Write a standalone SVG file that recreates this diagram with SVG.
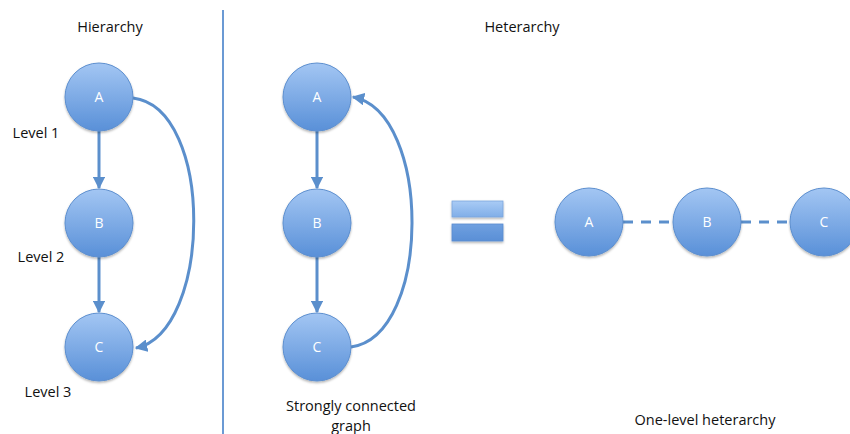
<svg xmlns="http://www.w3.org/2000/svg" width="850" height="434" viewBox="0 0 850 434">
  <defs>
    <linearGradient id="ballFill" x1="0" y1="0" x2="0" y2="1">
      <stop offset="0" stop-color="#a3c6f3"/>
      <stop offset="1" stop-color="#5990d8"/>
    </linearGradient>
    <linearGradient id="barLight" x1="0" y1="0" x2="0" y2="1">
      <stop offset="0" stop-color="#a9cbf5"/>
      <stop offset="1" stop-color="#80aee8"/>
    </linearGradient>
    <linearGradient id="barDark" x1="0" y1="0" x2="0" y2="1">
      <stop offset="0" stop-color="#6fa0e0"/>
      <stop offset="1" stop-color="#5a8fd6"/>
    </linearGradient>
    <filter id="shade" x="-20%" y="-20%" width="140%" height="150%">
      <feDropShadow dx="0" dy="1.5" stdDeviation="1.2" flood-color="#000" flood-opacity="0.3"/>
    </filter>
    <marker id="head" viewBox="0 0 10 10" refX="9" refY="5" markerWidth="4.2" markerHeight="4.2" orient="auto" markerUnits="strokeWidth">
      <path d="M0,0 L10,5 L0,10 Z" fill="#5b8fcc"/>
    </marker>
  </defs>
  <style>
    .ball { fill: url(#ballFill); stroke: #5d8fcf; stroke-width: 1; filter: url(#shade); }
    .letter { font-family: "Open Sans", "Liberation Sans", sans-serif; font-size: 14px; fill: #ffffff; text-anchor: middle; }
    .label { font-family: "Open Sans", "Liberation Sans", sans-serif; font-size: 14.5px; fill: #111111; text-anchor: middle; }
    .edge { fill: none; stroke: #5b8fcc; stroke-width: 3; }
    .dash { stroke-dasharray: 10 8; }
  </style>

  <rect width="850" height="434" fill="#ffffff"/>

  <!-- divider between the two panels -->
  <line x1="223" y1="10" x2="223" y2="434" stroke="#6b9ad4" stroke-width="2"/>

  <!-- headings and captions -->
  <text class="label" x="110" y="32">Hierarchy</text>
  <text class="label" x="522" y="32">Heterarchy</text>
  <text class="label" x="36" y="138">Level 1</text>
  <text class="label" x="41" y="262">Level 2</text>
  <text class="label" x="48" y="397">Level 3</text>
  <text class="label" x="351" y="411">Strongly connected</text>
  <text class="label" x="351" y="431">graph</text>
  <text class="label" x="705" y="425">One-level heterarchy</text>

  <g id="connectors">
    <!-- hierarchy -->
    <line class="edge" x1="99" y1="131" x2="99" y2="188" marker-end="url(#head)"/>
    <line class="edge" x1="99" y1="257" x2="99" y2="312" marker-end="url(#head)"/>
    <path class="edge" d="M133,98 C215,108 212,332 136,348" marker-end="url(#head)"/>
    <!-- strongly connected graph -->
    <line class="edge" x1="317" y1="131" x2="317" y2="188" marker-end="url(#head)"/>
    <line class="edge" x1="317" y1="257" x2="317" y2="312" marker-end="url(#head)"/>
    <path class="edge" d="M351,347 C432,336 432,112 353,97" marker-end="url(#head)"/>
    <!-- one-level heterarchy -->
    <line class="edge dash" x1="623" y1="222" x2="673" y2="222"/>
    <line class="edge dash" x1="741" y1="222" x2="790" y2="222"/>
  </g>

  <!-- equivalence sign -->
  <g id="equals">
    <rect x="452" y="201" width="51" height="16" fill="url(#barLight)" stroke="#7aa6dd" stroke-width="0.8" filter="url(#shade)"/>
    <rect x="452" y="224" width="51" height="17" fill="url(#barDark)" stroke="#5a8cd0" stroke-width="0.8" filter="url(#shade)"/>
  </g>

  <g id="hier-A"><circle class="ball" cx="99" cy="97" r="34"/><text class="letter" x="99" y="102">A</text></g>
  <g id="hier-B"><circle class="ball" cx="99" cy="223" r="34"/><text class="letter" x="99" y="228">B</text></g>
  <g id="hier-C"><circle class="ball" cx="99" cy="347" r="34"/><text class="letter" x="99" y="352">C</text></g>

  <g id="scc-A"><circle class="ball" cx="317" cy="97" r="34"/><text class="letter" x="317" y="102">A</text></g>
  <g id="scc-B"><circle class="ball" cx="317" cy="223" r="34"/><text class="letter" x="317" y="228">B</text></g>
  <g id="scc-C"><circle class="ball" cx="317" cy="347" r="34"/><text class="letter" x="317" y="352">C</text></g>

  <g id="flat-A"><circle class="ball" cx="589" cy="222" r="34"/><text class="letter" x="589" y="227">A</text></g>
  <g id="flat-B"><circle class="ball" cx="707" cy="222" r="34"/><text class="letter" x="707" y="227">B</text></g>
  <g id="flat-C"><circle class="ball" cx="824" cy="222" r="34"/><text class="letter" x="824" y="227">C</text></g>
</svg>
